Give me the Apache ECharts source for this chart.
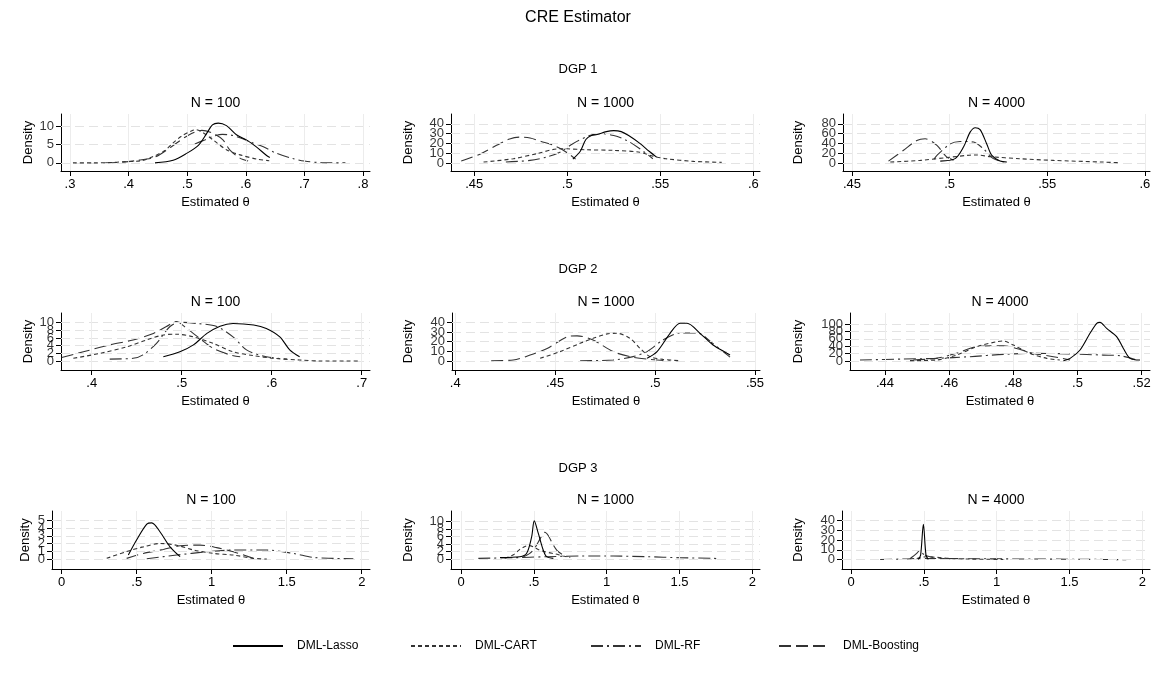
<!DOCTYPE html>
<html>
<head>
<meta charset="utf-8">
<title>CRE Estimator</title>
<script src="https://cdn.jsdelivr.net/npm/echarts@6.0.0/dist/echarts.min.js"></script>
<style>
  html, body { margin: 0; padding: 0; background: #fff; }
  #main { width: 1156px; height: 688px; }
</style>
</head>
<body>
<div id="main"></div>
<script>
// ---- data ----
const methods = ['DML-Lasso', 'DML-CART', 'DML-RF', 'DML-Boosting'];
const dgpTitles = ['DGP 1', 'DGP 2', 'DGP 3'];
const nTitles = ['N = 100', 'N = 1000', 'N = 4000'];

// DGP 1
const d1n100Lasso = [[.445,0],[.476,.7],[.499,2.6],[.519,4.8],[.533,8.0],[.543,10.4],[.553,10.9],[.567,10.2],[.584,7.7],[.601,6.3],[.618,4.4],[.635,2.1],[.641,1.5]];
const d1n100Cart = [[.305,0],[.34,0],[.37,.1],[.39,.3],[.422,.6],[.44,1.6],[.462,3.4],[.476,5.5],[.491,7.4],[.508,8.8],[.515,9.1],[.527,8.3],[.545,6.2],[.567,3.6],[.59,2.2],[.62,1.0],[.64,.6]];
const d1n100Rf = [[.513,5.2],[.53,6.3],[.545,7.3],[.56,7.8],[.575,7.6],[.59,6.9],[.61,5.6],[.63,4.4],[.65,2.8],[.68,1.2],[.70,.5],[.73,.05],[.77,0]];
const d1n100Boost = [[.36,0],[.39,.2],[.411,.6],[.445,1.6],[.472,4.3],[.502,7.6],[.525,8.9],[.544,8.1],[.561,6.3],[.573,3.5],[.59,1.3],[.604,.5]];

const d1n1000Lasso = [[.503,4],[.507,12],[.510,24],[.513,28],[.516,29],[.521,32],[.525,33],[.529,32],[.533,28],[.539,20],[.544,12],[.548,6]];
const d1n1000Cart = [[.455,1],[.471,4.4],[.4835,9.5],[.496,14.6],[.5,14.5],[.51,13.5],[.525,12.9],[.539,11],[.546,7],[.553,4.4],[.568,1.7],[.583,.7]];
const d1n1000Rf = [[.467,1],[.48,2.7],[.489,6.1],[.496,11],[.503,19.7],[.512,28],[.5176,30],[.525,28],[.532,23],[.539,14.6],[.546,4.4]];
const d1n1000Boost = [[.443,2],[.453,9],[.462,18],[.469,24.5],[.4746,26.4],[.48,25.5],[.486,22],[.492,18.5],[.497,14],[.501,9],[.5045,4]];

const d1n4000Lasso = [[.4952,4],[.5028,9],[.5071,32.5],[.5105,63],[.5131,72],[.5156,68],[.519,39],[.5216,15.6],[.5258,4],[.5293,2]];
const d1n4000Cart = [[.4696,2],[.485,5.4],[.5003,12],[.51,16],[.5139,16.5],[.5207,13],[.536,8.8],[.553,5.4],[.5787,2],[.5872,.7]];
const d1n4000Rf = [[.492,8],[.4935,15.6],[.5003,39],[.5054,44],[.5122,42.7],[.5173,29],[.5224,9],[.5276,2]];
const d1n4000Boost = [[.4687,4],[.4764,26],[.4832,46],[.4875,49.5],[.4935,36],[.4986,12],[.5037,4]];

// DGP 2
const d2n100Lasso = [[.4796,1.1],[.498,2.4],[.513,4.2],[.528,7.2],[.5426,9.1],[.557,9.8],[.58,9.4],[.594,8.5],[.609,6.3],[.62,2.9],[.631,1.1]];
const d2n100Cart = [[.3796,.7],[.4093,2],[.4389,3.7],[.461,5.5],[.4796,6.8],[.494,7.0],[.513,6.3],[.535,4.6],[.557,2.4],[.58,1.4],[.602,.7],[.631,.26],[.654,0],[.698,0]];
const d2n100Rf = [[.42,.5],[.446,.7],[.457,1.6],[.472,4.6],[.487,9],[.498,10.1],[.5167,9.8],[.539,9],[.557,6.3],[.572,2.9],[.594,1.1],[.617,.5]];
const d2n100Boost = [[.3667,.9],[.3907,2.4],[.42,4.2],[.446,5.5],[.4685,7.2],[.483,9],[.494,10.3],[.5056,8.5],[.52,5.9],[.535,3.3],[.5537,1.6],[.565,1.1]];

const d2n1000Lasso = [[.496,2.8],[.501,9.7],[.5075,28.6],[.5125,39],[.516,39],[.5225,28.6],[.529,16.6],[.536,8],[.5375,6.2]];
const d2n1000Cart = [[.4425,2.8],[.4525,9.7],[.4625,18.3],[.469,23.4],[.476,28],[.481,28.6],[.4875,23.4],[.4925,13],[.4975,4.5],[.504,1.7],[.5125,.3]];
const d2n1000Rf = [[.4625,.3],[.479,1],[.489,4.5],[.496,9.7],[.504,21.7],[.5125,29],[.521,29],[.529,18],[.5345,9],[.5375,4]];
const d2n1000Boost = [[.418,.3],[.429,1],[.4375,6.2],[.446,13],[.456,25],[.461,26],[.469,21.7],[.479,9.7],[.4875,4.5],[.496,2],[.5075,0]];

const d2n4000Lasso = [[.4956,.9],[.4977,7.2],[.5008,29.7],[.5039,74.8],[.506,101.8],[.507,104.5],[.5091,88],[.5122,65.8],[.5143,34],[.5164,7.2],[.5195,2.7]];
const d2n4000Cart = [[.4478,.9],[.456,2.7],[.4623,16],[.4686,38.7],[.4748,52],[.4769,54],[.48,43],[.4852,20.7],[.4904,7.2],[.4945,2.7]];
const d2n4000Rf = [[.4322,2.7],[.4457,5.4],[.456,7.2],[.4665,11.7],[.4769,18],[.4873,20.7],[.4977,19],[.508,16],[.5132,14.4],[.5184,2.7]];
const d2n4000Boost = [[.4488,2.7],[.456,7.2],[.4623,20.7],[.4686,38.7],[.4769,41.4],[.481,34],[.4862,20.7],[.4925,11.7],[.4977,2.7]];

// DGP 3
const d3n100Lasso = [[.444,.55],[.5,2.5],[.567,4.5],[.6,4.66],[.656,3.5],[.722,1.6],[.789,.34]];
const d3n100Cart = [[.3,.13],[.433,1],[.544,1.6],[.656,2.03],[.767,1.8],[.878,1.2],[1.011,.76],[1.144,.55],[1.278,.13],[1.367,.04]];
const d3n100Rf = [[.567,.08],[.767,.55],[.967,.97],[1.144,1.19],[1.367,1.19],[1.544,.76],[1.678,.25],[1.811,.13],[1.944,.08]];
const d3n100Boost = [[.433,.13],[.544,.76],[.678,1.27],[.789,1.74],[.922,1.82],[1.033,1.5],[1.144,.97],[1.278,.13]];

const d3n1000Lasso = [[.268,.5],[.405,.7],[.451,1.6],[.485,5.9],[.503,10.1],[.531,6.8],[.565,2.4],[.588,.7],[.634,.26]];
const d3n1000Cart = [[.3,.3],[.36,1.2],[.4,2.5],[.44,3.4],[.47,3.6],[.5,3.2],[.53,2.6],[.56,2.2],[.6,1.8],[.65,1.4],[.7,.9],[.75,.5]];
const d3n1000Rf = [[.119,.26],[.359,.43],[.588,.7],[.817,.87],[1.046,.87],[1.275,.7],[1.503,.43],[1.732,.26],[1.778,.1]];
const d3n1000Boost = [[.42,.5],[.47,1.5],[.5,2.6],[.53,4.5],[.56,6.5],[.575,7.1],[.6,6.2],[.63,4],[.66,2.3],[.7,1.2],[.73,.7]];

const d3n4000Lasso = [[.462,.3],[.478,4.7],[.497,36],[.515,4.7],[.531,.3]];
const d3n4000Cart = [[.451,1.3],[.519,3],[.588,2.4],[.68,1.3],[.817,.7],[1.046,.3]];
const d3n4000Rf = [[.2,.3],[.36,.7],[.497,1.3],[.817,1],[1.275,.7],[1.732,.3],[1.89,0]];
const d3n4000Boost = [[.405,1],[.451,6.4],[.474,9.7],[.497,5.7],[.542,3],[.634,1.3],[.725,.7]];

// tick labels per panel (row by row)
const xTicks = [
  [.3,.4,.5,.6,.7,.8], [.45,.5,.55,.6], [.45,.5,.55,.6],
  [.4,.5,.6,.7], [.4,.45,.5,.55], [.44,.46,.48,.5,.52],
  [0,.5,1,1.5,2], [0,.5,1,1.5,2], [0,.5,1,1.5,2]
];
const yTicks = [
  [0,5,10], [0,10,20,30,40], [0,20,40,60,80],
  [0,2,4,6,8,10], [0,10,20,30,40], [0,20,40,60,80,100],
  [0,1,2,3,4,5], [0,2,4,6,8,10], [0,10,20,30,40]
];

const panelData = [
  [d1n100Lasso, d1n100Cart, d1n100Rf, d1n100Boost],
  [d1n1000Lasso, d1n1000Cart, d1n1000Rf, d1n1000Boost],
  [d1n4000Lasso, d1n4000Cart, d1n4000Rf, d1n4000Boost],
  [d2n100Lasso, d2n100Cart, d2n100Rf, d2n100Boost],
  [d2n1000Lasso, d2n1000Cart, d2n1000Rf, d2n1000Boost],
  [d2n4000Lasso, d2n4000Cart, d2n4000Rf, d2n4000Boost],
  [d3n100Lasso, d3n100Cart, d3n100Rf, d3n100Boost],
  [d3n1000Lasso, d3n1000Cart, d3n1000Rf, d3n1000Boost],
  [d3n4000Lasso, d3n4000Cart, d3n4000Rf, d3n4000Boost]
];

// ---- layout (pixel boxes of each plot region and the axis ranges they show) ----
const rowTop = [114, 313, 511];
const rowBottom = [171, 370, 569];
const panelBox = [
  {l: 61, r: 370, xmin: .2846, xmax: .812, ymin: -2.22, ymax: 13.39, gap: 26},
  {l: 451, r: 760, xmin: .4375, xmax: .6036, ymin: -8.12, ymax: 49.95, gap: 36},
  {l: 843, r: 1150, xmin: .4454, xmax: .6026, ymin: -16.2, ymax: 99.9, gap: 38},
  {l: 61, r: 370, xmin: .3659, xmax: .7092, ymin: -2.35, ymax: 12.53, gap: 26},
  {l: 452, r: 760, xmin: .3984, xmax: .5525, ymin: -9.3, ymax: 49.6, gap: 37},
  {l: 850, r: 1150, xmin: .4291, xmax: .5226, ymin: -24.3, ymax: 129.7, gap: 45},
  {l: 52, r: 370, xmin: -.0647, xmax: 2.055, ymin: -1.23, ymax: 6.18, gap: 20},
  {l: 451, r: 760, xmin: -.0686, xmax: 2.053, ymin: -2.53, ymax: 12.69, gap: 36},
  {l: 842, r: 1150, xmin: -.0618, xmax: 2.053, ymin: -9.4, ymax: 49.4, gap: 37}
];

const FONT = '"Liberation Sans", Arial, sans-serif';
const lineTypes = {
  'DML-Lasso': 'solid',
  'DML-CART': [4, 3],
  'DML-RF': [12, 4, 2, 4],
  'DML-Boosting': [12, 5]
};
const lineColors = {
  'DML-Lasso': '#000',
  'DML-CART': '#333',
  'DML-RF': '#333',
  'DML-Boosting': '#333'
};

function fmt(v) {
  return String(v).replace(/^0\./, '.').replace(/^-0\./, '-.');
}

const grids = [], xAxes = [], yAxes = [], series = [], graphics = [];

graphics.push({type: 'text', x: 578, y: 18, style: {text: 'CRE Estimator', font: '16px ' + FONT, fill: '#000', align: 'center', verticalAlign: 'middle'}});
const dgpY = [69, 269, 468];
dgpTitles.forEach((t, r) => {
  graphics.push({type: 'text', x: 578, y: dgpY[r], style: {text: t, font: '13px ' + FONT, fill: '#000', align: 'center', verticalAlign: 'middle'}});
});

panelBox.forEach((b, i) => {
  const row = Math.floor(i / 3), col = i % 3;
  const top = rowTop[row], bottom = rowBottom[row];
  grids.push({left: b.l, top: top, width: b.r - b.l, height: bottom - top, containLabel: false});
  graphics.push({type: 'text', x: (b.l + b.r) / 2, y: top - 11, style: {text: nTitles[col], font: '14px ' + FONT, fill: '#000', align: 'center', verticalAlign: 'middle'}});

  xAxes.push({
    type: 'value', gridIndex: i, min: b.xmin, max: b.xmax,
    name: 'Estimated θ', nameLocation: 'middle', nameGap: 25,
    nameTextStyle: {fontFamily: FONT, fontSize: 13, color: '#000'},
    axisLine: {onZero: false, lineStyle: {color: '#000', width: 1}},
    axisTick: {show: true, length: 5, customValues: xTicks[i], lineStyle: {color: '#000'}},
    axisLabel: {customValues: xTicks[i], formatter: fmt, margin: 7, fontFamily: FONT, fontSize: 13, color: '#000',
      showMinLabel: true, showMaxLabel: true, hideOverlap: false},
    splitLine: {show: false}
  });
  yAxes.push({
    type: 'value', gridIndex: i, min: b.ymin, max: b.ymax,
    name: 'Density', nameLocation: 'middle', nameGap: b.gap, nameRotate: 90,
    nameTextStyle: {fontFamily: FONT, fontSize: 13, color: '#000'},
    axisLine: {onZero: false, lineStyle: {color: '#000', width: 1}},
    axisTick: {show: true, length: 5, customValues: yTicks[i], lineStyle: {color: '#000'}},
    axisLabel: {show: false},
    splitLine: {show: false}
  });

  // background grid lines drawn through the axes' own scales
  const gridLines = [];
  yTicks[i].forEach(v => gridLines.push({yAxis: v, lineStyle: {color: '#e3e3e3', type: [9, 5], width: 1}}));
  xTicks[i].forEach(v => gridLines.push({xAxis: v, lineStyle: {color: '#ececec', type: 'solid', width: 1}}));
  series.push({
    type: 'line', xAxisIndex: i, yAxisIndex: i, data: [], z: 1, silent: true,
    markLine: {silent: true, symbol: ['none', 'none'], label: {show: false}, animation: false, data: gridLines}
  });

  // y tick labels: Stata keeps every one, even where they overlap
  series.push({
    type: 'scatter', xAxisIndex: i, yAxisIndex: i, silent: true, clip: false,
    symbolSize: 0, z: 5,
    data: yTicks[i].map(v => [b.xmin, v]),
    label: {show: true, position: 'left', distance: 7, formatter: p => fmt(p.value[1]),
      fontFamily: FONT, fontSize: 13, color: '#000'},
    labelLayout: {hideOverlap: false},
    animation: false
  });

  methods.forEach((m, k) => {
    series.push({
      name: m, type: 'line', xAxisIndex: i, yAxisIndex: i,
      data: panelData[i][k], showSymbol: false, symbol: 'none', smooth: 0.3,
      z: 3 + (3 - k),
      lineStyle: {color: lineColors[m], width: 1.1, type: lineTypes[m]},
      itemStyle: {color: lineColors[m]},
      emphasis: {disabled: true},
      animation: false
    });
  });
});

const legendLeft = [232, 410, 590, 778];
const legends = methods.map((m, k) => ({
  data: [m], left: legendLeft[k], top: 640, itemWidth: 50, itemHeight: 14, padding: 0,
  itemStyle: {color: 'rgba(0,0,0,0)', borderColor: 'rgba(0,0,0,0)', borderWidth: 0, opacity: 0},
  textStyle: {fontFamily: FONT, fontSize: 12, color: '#000', padding: [0, 0, 0, 9]},
  selectedMode: false
}));

const chart = echarts.init(document.getElementById('main'), null, {renderer: 'canvas'});
chart.setOption({
  backgroundColor: '#fff',
  animation: false,
  grid: grids,
  xAxis: xAxes,
  yAxis: yAxes,
  legend: legends,
  graphic: graphics,
  series: series
});
</script>
</body>
</html>
